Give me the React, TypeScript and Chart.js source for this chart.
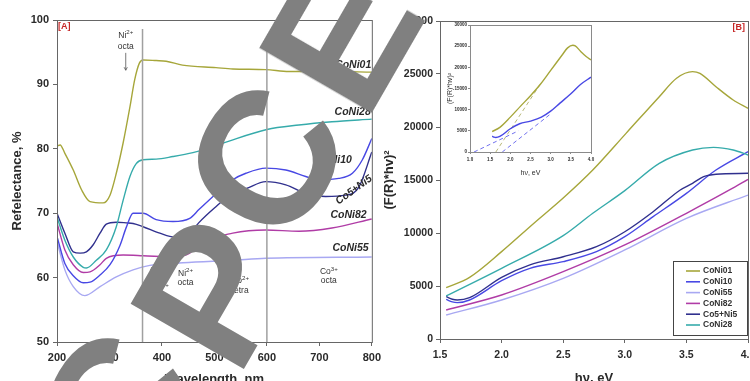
import React, { useEffect, useRef } from "react";
import { Chart, registerables } from "chart.js";
Chart.register(...registerables);

const FONT = "'Liberation Sans', Arial, Helvetica, sans-serif";

// ---------------- Panel A : reflectance vs wavelength ----------------
const wl01 = [200, 206, 215, 231, 247, 263, 288, 301, 313, 326, 339, 348, 357, 364, 389, 408, 439, 503, 535, 598, 642, 724, 800];
const refl01 = [80.4, 80.6, 79.3, 76.7, 73.6, 71.8, 71.6, 72.8, 76.2, 80.9, 86.5, 90.7, 93.3, 93.8, 93.7, 93.6, 93.0, 92.6, 92.4, 92.3, 92.0, 92.0, 91.9];

const wl28 = [200, 215, 231, 250, 256, 275, 294, 313, 326, 339, 351, 364, 389, 421, 459, 490, 528, 600, 661, 724, 800];
const refl28 = [69.4, 65.8, 63.2, 61.6, 61.5, 62.7, 64.3, 67.9, 72.0, 75.7, 77.7, 78.3, 78.4, 78.8, 79.4, 80.1, 81.2, 83.0, 83.7, 84.2, 84.6];

const wl10 = [200, 215, 231, 250, 263, 282, 301, 320, 332, 345, 364, 389, 421, 453, 471, 500, 535, 560, 598, 636, 674, 699, 737, 763, 782, 800];
const refl10 = [66.4, 62.2, 60.3, 59.2, 59.3, 60.4, 62.0, 65.0, 67.8, 70.0, 70.0, 69.0, 68.7, 69.2, 70.6, 72.8, 75.2, 76.2, 77.0, 76.7, 75.7, 75.2, 75.4, 76.2, 78.3, 81.6];

const wl55mix = [200, 215, 231, 244, 256, 269, 282, 294, 313, 332, 345, 364, 396, 424, 453, 470, 500, 535, 560, 598, 636, 674, 712, 750, 775, 800];
const refl55mix = [70.0, 66.9, 64.0, 63.8, 64.0, 65.1, 66.9, 68.3, 68.6, 68.5, 68.4, 67.9, 66.9, 66.3, 66.9, 68.5, 70.8, 73.1, 73.8, 74.9, 74.4, 73.1, 72.6, 72.8, 74.0, 79.5];

const wl82 = [200, 215, 231, 250, 263, 282, 294, 326, 364, 421, 453, 471, 535, 598, 661, 724, 800];
const refl82 = [68.5, 64.3, 62.0, 60.8, 60.9, 62.0, 63.0, 63.5, 63.4, 63.2, 63.8, 65.2, 66.9, 67.4, 67.2, 67.7, 69.1];

const wl55 = [200, 215, 231, 253, 282, 313, 345, 377, 440, 535, 598, 800];
const refl55 = [65.6, 61.2, 58.6, 57.2, 58.6, 60.1, 61.2, 61.9, 62.3, 62.7, 63.0, 63.2];

// ---------------- Panel B : (F(R)*hv)^2 vs hv ----------------
const hv01 = [1.55, 1.74, 2.0, 2.26, 2.5, 2.74, 3.01, 3.28, 3.42, 3.55, 3.61, 3.74, 3.88, 4.0];
const km01 = [4840, 5820, 8240, 10900, 13300, 15940, 19400, 22860, 24600, 25220, 25060, 23800, 22550, 21760];

const hv10 = [1.55, 1.6, 1.64, 1.74, 2.0, 2.23, 2.5, 2.77, 3.0, 3.23, 3.5, 3.74, 4.0];
const km10 = [3740, 3500, 3430, 3680, 5500, 6670, 7300, 8240, 9650, 11540, 13740, 15940, 17670];

const hv55 = [1.55, 2.0, 2.5, 3.0, 3.5, 4.0];
const km55 = [2260, 3680, 5720, 8400, 11380, 13580];

const hv82 = [1.55, 2.0, 2.5, 3.0, 3.5, 3.85, 4.0];
const km82 = [2740, 4150, 6350, 8870, 11860, 14060, 15060];

const hvMix = [1.55, 1.6, 1.64, 1.74, 2.0, 2.23, 2.5, 2.77, 3.0, 3.23, 3.45, 3.55, 3.64, 3.74, 4.0];
const kmMix = [3990, 3750, 3680, 3900, 5820, 7000, 7760, 8710, 10120, 12010, 14060, 14690, 15310, 15540, 15630];

const hv28 = [1.55, 2.0, 2.5, 2.74, 3.0, 3.28, 3.55, 3.72, 3.88, 4.0];
const km28 = [4060, 6670, 9750, 11860, 14000, 16570, 17830, 18080, 17830, 17360];

// inset tangent (extrapolation) lines
const tanOliveX = [1.64, 2.74];
const tanOliveY = [0, 16000];
const tanBlue1X = [1.1, 2.2];
const tanBlue1Y = [0, 5000];
const tanBlue2X = [1.8, 3.0];
const tanBlue2Y = [0, 9000];

const legendNames = ["CoNi01", "CoNi10", "CoNi55", "CoNi82", "Co5+Ni5", "CoNi28"];

const C01 = "#a6a63a";
const C10 = "#4848e4";
const C55 = "#a8a8f2";
const C82 = "#b03ca6";
const CMIX = "#30308e";
const C28 = "#36abab";

const TXT = "#2a2a2a";
const AXIS = "#666";

function ds(label: string, xs: number[], ys: number[], color: string, extra: any = {}) {
  return {
    label,
    data: xs.map((x, i) => ({ x, y: ys[i] })),
    borderColor: color,
    backgroundColor: color,
    borderWidth: 1.4,
    pointRadius: 0,
    cubicInterpolationMode: "monotone",
    fill: false,
    ...extra,
  };
}

function supText(ctx: CanvasRenderingContext2D, base: string, sup: string, cx: number, cy: number, size: number) {
  ctx.font = `${size}px ${FONT}`;
  const w1 = ctx.measureText(base).width;
  ctx.font = `${size * 0.72}px ${FONT}`;
  const w2 = ctx.measureText(sup).width;
  const x0 = cx - (w1 + w2) / 2;
  const by = cy + size * 0.35;
  ctx.textAlign = "left";
  ctx.textBaseline = "alphabetic";
  ctx.font = `${size}px ${FONT}`;
  ctx.fillText(base, x0, by);
  ctx.font = `${size * 0.72}px ${FONT}`;
  ctx.fillText(sup, x0 + w1, by - size * 0.42);
}

function plainText(ctx: CanvasRenderingContext2D, t: string, cx: number, cy: number, size: number) {
  ctx.font = `${size}px ${FONT}`;
  ctx.textAlign = "center";
  ctx.textBaseline = "middle";
  ctx.fillText(t, cx, cy);
}

function arrow(ctx: CanvasRenderingContext2D, x: number, y0: number, y1: number) {
  ctx.save();
  ctx.strokeStyle = "#555";
  ctx.lineWidth = 0.8;
  ctx.beginPath();
  ctx.moveTo(x, y0);
  ctx.lineTo(x, y1);
  const d = y1 > y0 ? -1 : 1;
  ctx.moveTo(x - 1.6, y1 + d * 3);
  ctx.lineTo(x, y1);
  ctx.lineTo(x + 1.6, y1 + d * 3);
  ctx.stroke();
  ctx.restore();
}

const tickFont = (size: number) => ({ family: FONT, size, weight: "bold" as const });

const panelAPlugin = {
  id: "panelA",
  afterDatasetsDraw(chart: any) {
    const { ctx, chartArea: a, scales } = chart;
    const X = (v: number) => scales.x.getPixelForValue(v);
    const Y = (v: number) => scales.y.getPixelForValue(v);
    ctx.save();
    ctx.strokeStyle = AXIS;
    ctx.lineWidth = 1;
    ctx.strokeRect(a.left + 0.5, a.top + 0.5, a.right - a.left, a.bottom - a.top);
    ctx.strokeStyle = "#a0a0a0";
    ctx.lineWidth = 1.5;
    ctx.beginPath();
    ctx.moveTo(X(363), Y(98.6));
    ctx.lineTo(X(363), Y(50));
    ctx.moveTo(X(600), Y(95.3));
    ctx.lineTo(X(600), Y(50));
    ctx.stroke();
    ctx.fillStyle = "#c62828";
    ctx.font = `bold 9px ${FONT}`;
    ctx.textAlign = "left";
    ctx.textBaseline = "middle";
    ctx.fillText("[A]", a.left + 1, a.top + 7);
    ctx.fillStyle = "#333";
    supText(ctx, "Ni", "2+", X(331), Y(97.7), 8.5);
    plainText(ctx, "octa", X(331), Y(95.8), 8.5);
    arrow(ctx, X(331), Y(94.9), Y(92.2));
    supText(ctx, "Co", "2+", X(549), Y(59.6), 8.5);
    plainText(ctx, "tetra", X(549), Y(58.0), 8.5);
    arrow(ctx, X(542), Y(61.2), Y(62.6));
    supText(ctx, "Co", "3+", X(718), Y(61.0), 8.5);
    plainText(ctx, "octa", X(718), Y(59.5), 8.5);
    supText(ctx, "Co", "2+", X(396), Y(58.4), 8.5);
    plainText(ctx, "tetra", X(396), Y(56.8), 8.5);
    arrow(ctx, X(381), Y(60.6), Y(61.6));
    supText(ctx, "Ni", "2+", X(445), Y(60.7), 8.5);
    plainText(ctx, "octa", X(445), Y(59.2), 8.5);
    ctx.fillStyle = TXT;
    ctx.font = `italic bold 10.5px ${FONT}`;
    ctx.textAlign = "right";
    ctx.textBaseline = "middle";
    ctx.fillText("CoNi01", X(799), Y(93.0));
    ctx.fillText("CoNi28", X(798), Y(85.7));
    ctx.fillText("CoNi10", X(762), Y(78.3));
    ctx.fillText("CoNi82", X(790), Y(69.7));
    ctx.fillText("CoNi55", X(794), Y(64.6));
    ctx.save();
    ctx.translate(X(766), Y(73.6));
    ctx.rotate((-36 * Math.PI) / 180);
    ctx.textAlign = "center";
    ctx.fillText("Co5+Ni5", 0, 0);
    ctx.restore();
    ctx.restore();
  },
};

const panelBPlugin = {
  id: "panelB",
  afterDatasetsDraw(chart: any) {
    const { ctx, chartArea: a } = chart;
    ctx.save();
    ctx.strokeStyle = AXIS;
    ctx.lineWidth = 1;
    ctx.strokeRect(a.left + 0.5, a.top + 0.5, a.right - a.left, a.bottom - a.top);
    ctx.fillStyle = "#c62828";
    ctx.font = `bold 9px ${FONT}`;
    ctx.textAlign = "right";
    ctx.textBaseline = "middle";
    ctx.fillText("[B]", a.right - 3, a.top + 7);
    const lw = 75;
    const lh = 74;
    const lx = a.right - lw;
    const ly = a.bottom - 78;
    ctx.fillStyle = "#fff";
    ctx.fillRect(lx, ly, lw, lh);
    ctx.strokeStyle = "#444";
    ctx.strokeRect(lx + 0.5, ly + 0.5, lw - 1, lh);
    const order = legendNames.map((n) => chart.data.datasets.find((d: any) => d.label === n));
    order.forEach((d: any, i: number) => {
      const y = ly + 10 + i * 10.8;
      ctx.strokeStyle = d.borderColor;
      ctx.lineWidth = 1.6;
      ctx.beginPath();
      ctx.moveTo(lx + 13, y);
      ctx.lineTo(lx + 27, y);
      ctx.stroke();
      ctx.fillStyle = "#333";
      ctx.font = `bold 8.5px ${FONT}`;
      ctx.textAlign = "left";
      ctx.textBaseline = "middle";
      ctx.fillText(d.label, lx + 30, y);
    });
    ctx.restore();
  },
};

const insetPlugin = {
  id: "inset",
  afterDatasetsDraw(chart: any) {
    const { ctx, chartArea: a } = chart;
    ctx.save();
    ctx.strokeStyle = "#8a8a8a";
    ctx.lineWidth = 1;
    ctx.strokeRect(a.left + 0.5, a.top + 0.5, a.right - a.left, a.bottom - a.top);
    ctx.restore();
  },
};

const letters = [
  { ch: "C", x: 115, y: 408 },
  { ch: "P", x: 212, y: 292 },
  { ch: "C", x: 265, y: 160 },
  { ch: "E", x: 340, y: 36 },
];

export default function App() {
  const refA = useRef<HTMLCanvasElement>(null);
  const refB = useRef<HTMLCanvasElement>(null);
  const refI = useRef<HTMLCanvasElement>(null);

  useEffect(() => {
    const common = {
      responsive: false,
      animation: false as const,
      devicePixelRatio: 1,
      events: [] as any[],
    };

    const chartA = new Chart(refA.current!, {
      type: "line",
      data: {
        datasets: [
          ds("CoNi01", wl01, refl01, C01),
          ds("CoNi28", wl28, refl28, C28),
          ds("CoNi10", wl10, refl10, C10),
          ds("Co5+Ni5", wl55mix, refl55mix, CMIX),
          ds("CoNi82", wl82, refl82, C82),
          ds("CoNi55", wl55, refl55, C55),
        ] as any,
      },
      options: {
        ...common,
        layout: { padding: { left: 0, right: 13, top: 20, bottom: 8 } },
        plugins: { legend: { display: false }, tooltip: { enabled: false } },
        scales: {
          x: {
            type: "linear",
            min: 200,
            max: 800,
            ticks: { stepSize: 100, font: tickFont(11), color: TXT, padding: 5, maxRotation: 0, autoSkip: false },
            grid: { drawOnChartArea: false, drawTicks: true, tickLength: 4, color: AXIS },
            border: { color: AXIS, width: 1 },
            title: { display: true, text: "Wavelength, nm", color: TXT, font: { family: FONT, size: 13, weight: "bold" }, padding: { top: 0, bottom: 5 } },
            afterFit: (s: any) => { s.height = 50; },
          },
          y: {
            min: 50,
            max: 100,
            ticks: { stepSize: 10, font: tickFont(11), color: TXT, padding: 4 },
            grid: { drawOnChartArea: false, drawTicks: true, tickLength: 4, color: AXIS },
            border: { color: AXIS, width: 1 },
            title: { display: true, text: "Refelectance, %", color: TXT, font: { family: FONT, size: 13, weight: "bold" }, padding: { top: 10, bottom: 0 } },
            afterFit: (s: any) => { s.width = 57; },
          },
        },
      } as any,
      plugins: [panelAPlugin],
    });

    const chartB = new Chart(refB.current!, {
      type: "line",
      data: {
        datasets: [
          ds("CoNi01", hv01, km01, C01),
          ds("CoNi28", hv28, km28, C28),
          ds("Co5+Ni5", hvMix, kmMix, CMIX),
          ds("CoNi10", hv10, km10, C10),
          ds("CoNi82", hv82, km82, C82),
          ds("CoNi55", hv55, km55, C55),
        ] as any,
      },
      options: {
        ...common,
        layout: { padding: { left: 0, right: 22, top: 21, bottom: 11 } },
        plugins: { legend: { display: false }, tooltip: { enabled: false } },
        scales: {
          x: {
            type: "linear",
            min: 1.5,
            max: 4.0,
            ticks: { stepSize: 0.5, font: tickFont(10.5), color: TXT, padding: 6, maxRotation: 0, autoSkip: false, callback: (v: any) => Number(v).toFixed(1) },
            grid: { drawOnChartArea: false, drawTicks: true, tickLength: 4, color: AXIS },
            border: { color: AXIS, width: 1 },
            title: { display: true, text: "hν, eV", color: TXT, font: { family: FONT, size: 13, weight: "bold" }, padding: { top: 0, bottom: 3 } },
            afterFit: (s: any) => { s.height = 50; },
          },
          y: {
            min: 0,
            max: 30000,
            ticks: { stepSize: 5000, font: tickFont(10.5), color: TXT, padding: 3, callback: (v: any) => String(v) },
            grid: { drawOnChartArea: false, drawTicks: true, tickLength: 4, color: AXIS },
            border: { color: AXIS, width: 1 },
            title: { display: true, text: "(F(R)*hv)²", color: TXT, font: { family: FONT, size: 13, weight: "bold" }, padding: { top: 6, bottom: 0 } },
            afterFit: (s: any) => { s.width = 64; },
          },
        },
      } as any,
      plugins: [panelBPlugin],
    });

    const chartI = new Chart(refI.current!, {
      type: "line",
      data: {
        datasets: [
          ds("CoNi01", hv01, km01, C01),
          ds("CoNi10", hv10, km10, C10),
          ds("tanOlive", tanOliveX, tanOliveY, "#b8b878", { borderDash: [4, 3], borderWidth: 1, cubicInterpolationMode: "default", tension: 0 }),
          ds("tanBlue1", tanBlue1X, tanBlue1Y, "#7070ee", { borderDash: [4, 3], borderWidth: 1, cubicInterpolationMode: "default", tension: 0 }),
          ds("tanBlue2", tanBlue2X, tanBlue2Y, "#7070ee", { borderDash: [4, 3], borderWidth: 1, cubicInterpolationMode: "default", tension: 0 }),
        ] as any,
      },
      options: {
        ...common,
        layout: { padding: { left: 0, right: 14, top: 15, bottom: 3 } },
        plugins: { legend: { display: false }, tooltip: { enabled: false } },
        scales: {
          x: {
            type: "linear",
            min: 1.0,
            max: 4.0,
            ticks: { stepSize: 0.5, font: tickFont(4.5), color: TXT, padding: 2.6, maxRotation: 0, autoSkip: false, callback: (v: any) => Number(v).toFixed(1) },
            grid: { drawOnChartArea: false, drawTicks: true, tickLength: 2, color: "#8a8a8a" },
            border: { color: "#8a8a8a", width: 1 },
            title: { display: true, text: "hν, eV", color: TXT, font: { family: FONT, size: 7 }, padding: { top: 0, bottom: 4.8 } },
            afterFit: (s: any) => { s.height = 30; },
          },
          y: {
            min: 0,
            max: 30000,
            ticks: { stepSize: 5000, font: tickFont(4.5), color: TXT, padding: 1, autoSkip: false, callback: (v: any) => String(v) },
            grid: { drawOnChartArea: false, drawTicks: true, tickLength: 2, color: "#8a8a8a" },
            border: { color: "#8a8a8a", width: 1 },
            title: { display: true, text: "(F(R)*hv)²", color: TXT, font: { family: FONT, size: 7 }, padding: { top: 10.8, bottom: 0 } },
            afterFit: (s: any) => { s.width = 35; },
          },
        },
      } as any,
      plugins: [insetPlugin],
    });

    return () => {
      chartA.destroy();
      chartB.destroy();
      chartI.destroy();
    };
  }, []);

  return (
    <div style={{ position: "fixed", left: 0, top: 0, width: 750, height: 381, overflow: "hidden", background: "#fff" }}>
      <canvas ref={refA} width={386} height={400} style={{ position: "absolute", left: 0, top: 0, width: 386, height: 400 }} />
      <canvas ref={refB} width={394} height={400} style={{ position: "absolute", left: 376, top: 0, width: 394, height: 400 }} />
      <canvas ref={refI} width={170} height={175} style={{ position: "absolute", left: 435, top: 10, width: 170, height: 175 }} />
      {letters.map((l, i) => (
        <span
          key={i}
          style={{
            position: "absolute",
            left: l.x,
            top: l.y,
            transform: "translate(-50%, -50%) rotate(-60deg)",
            fontFamily: FONT,
            fontWeight: "bold",
            fontSize: 190,
            lineHeight: 1,
            color: "#808080",
            whiteSpace: "nowrap",
            pointerEvents: "none",
          }}
        >
          {l.ch}
        </span>
      ))}
    </div>
  );
}
